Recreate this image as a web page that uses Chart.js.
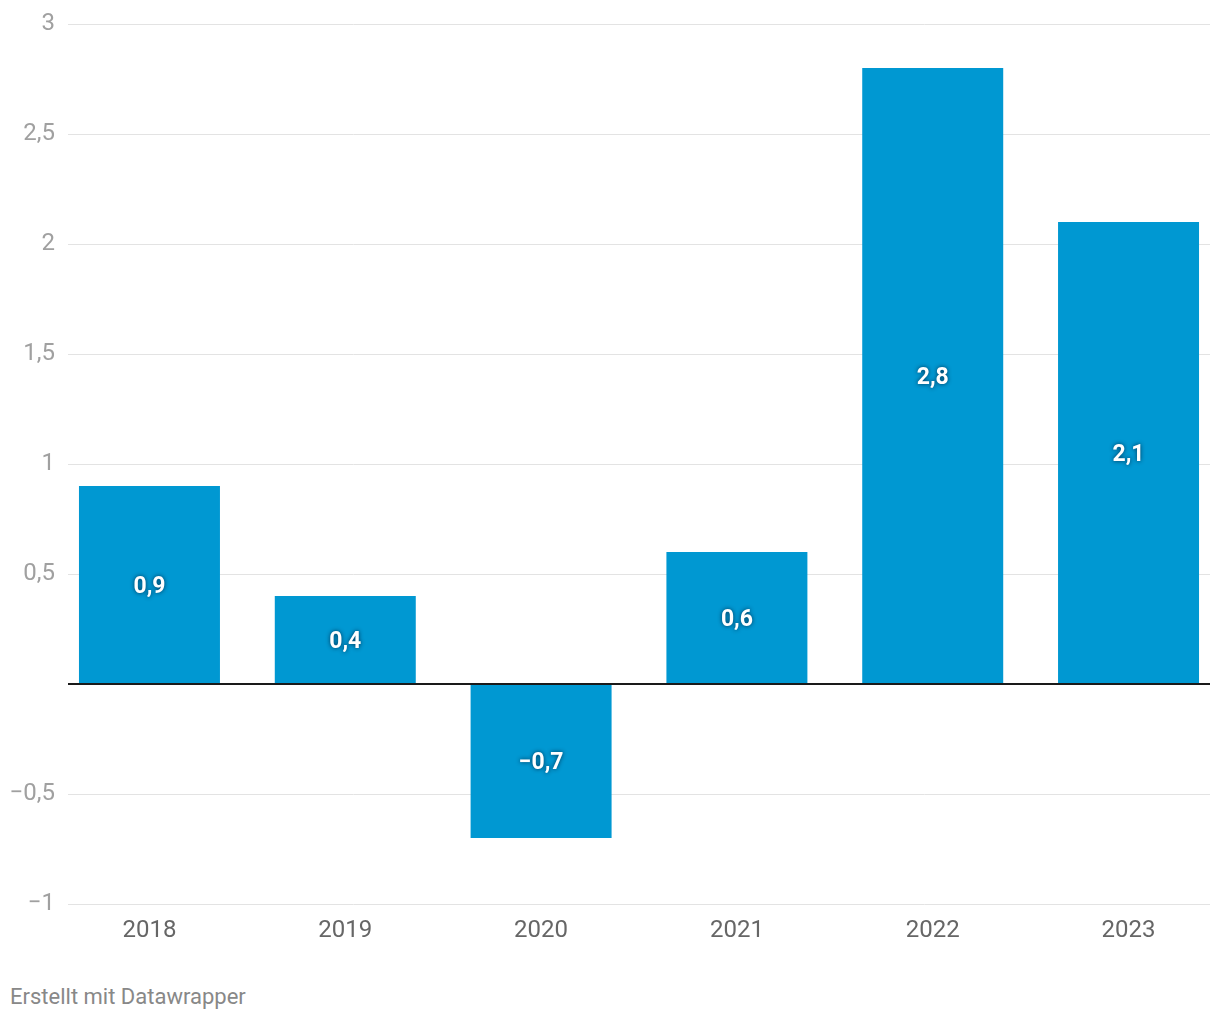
<!DOCTYPE html>
<html>
<head>
<meta charset="utf-8">
<script src="https://cdn.jsdelivr.net/npm/chart.js@4"></script>
<style>
  html, body { margin: 0; padding: 0; background: #fff; }
  #wrap { position: relative; width: 1220px; height: 960px; }
  #foot { position: absolute; left: 10px; top: 984px; font: 22px Roboto, sans-serif; line-height: 26px; color: #888; }
</style>
</head>
<body>
<div id="wrap"><canvas id="c"></canvas></div>
<div id="foot">Erstellt mit Datawrapper</div>
<script>
const categories = ["2018", "2019", "2020", "2021", "2022", "2023"];
const values = [0.9, 0.4, -0.7, 0.6, 2.8, 2.1];
const yTicks = [-1, -0.5, 0, 0.5, 1, 1.5, 2, 2.5, 3];

function fmt(v) {
  const s = String(Math.abs(v)).replace('.', ',');
  return (v < 0 ? '\u2212' : '') + s;
}

const barLabels = {
  id: 'barLabels',
  afterDatasetsDraw(chart) {
    const ctx = chart.ctx;
    const y0 = chart.scales.y.getPixelForValue(0);
    ctx.save();
    ctx.strokeStyle = '#1a1a1a';
    ctx.lineWidth = 2;
    ctx.beginPath();
    ctx.moveTo(chart.chartArea.left, y0);
    ctx.lineTo(chart.chartArea.right, y0);
    ctx.stroke();
    const meta = chart.getDatasetMeta(0);
    ctx.font = 'bold 23px Roboto, sans-serif';
    ctx.textAlign = 'center';
    ctx.textBaseline = 'middle';
    meta.data.forEach((bar, i) => {
      const cy = (bar.y + bar.base) / 2 + 2;
      ctx.shadowColor = 'rgba(0,40,70,0.9)';
      ctx.shadowBlur = 4;
      ctx.fillStyle = '#fff';
      ctx.fillText(fmt(values[i]), bar.x, cy);
    });
    ctx.restore();
  }
};

new Chart(document.getElementById('c'), {
  type: 'bar',
  data: {
    datasets: [{
      data: values.map((v, i) => ({ x: i, y: v })),
      backgroundColor: '#0098d2',
      borderWidth: 0,
      categoryPercentage: 0.8,
      barPercentage: 0.9
    }]
  },
  options: {
    responsive: true,
    maintainAspectRatio: false,
    animation: false,
    layout: { padding: { top: 24, right: 10, bottom: 0, left: 0 } },
    plugins: { legend: { display: false }, tooltip: { enabled: false } },
    scales: {
      x: {
        type: 'linear',
        offset: false,
        min: -0.416,
        max: 5.416,
        afterBuildTicks(scale) { scale.ticks = categories.map((c, i) => ({ value: i })); },
        afterFit(scale) { scale.height = 56; scale.paddingLeft = 0; scale.paddingRight = 0; },
        grid: { display: false, drawTicks: false, offset: false },
        border: { display: false },
        ticks: {
          autoSkip: false,
          maxRotation: 0,
          padding: 13,
          color: '#666',
          font: { family: 'Roboto', size: 24 },
          callback(v) { return categories[v]; }
        }
      },
      y: {
        min: -1,
        max: 3,
        afterBuildTicks(scale) { scale.ticks = yTicks.map(v => ({ value: v })); },
        afterFit(scale) { scale.width = 68; scale.paddingTop = 0; scale.paddingBottom = 0; },
        grid: { color: '#e3e3e3', lineWidth: 1, drawTicks: false },
        border: { display: false },
        ticks: {
          padding: 13,
          color: '#a0a0a0',
          font: { family: 'Roboto', size: 24 },
          callback(v) { return v === 0 ? '' : fmt(v); }
        }
      }
    }
  },
  plugins: [barLabels]
});
</script>
</body>
</html>
